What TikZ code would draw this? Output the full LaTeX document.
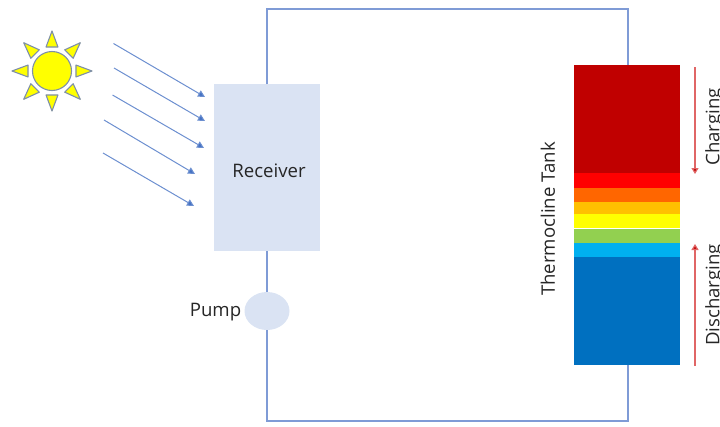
\documentclass[tikz,border=0pt]{standalone}
\usepackage{fontspec}
\setmainfont{Open Sans}
\usetikzlibrary{arrows.meta,shapes.geometric,calc}
\definecolor{boxfill}{HTML}{DAE3F3}
\definecolor{pipe}{HTML}{7F9BD6}
\definecolor{ray}{HTML}{4472C4}
\definecolor{rayline}{HTML}{6C8FD0}
\definecolor{sunline}{HTML}{7E8FA8}
\definecolor{flowline}{HTML}{E06666}
\definecolor{flowtip}{HTML}{C00000}
\definecolor{bDark}{HTML}{C00000}
\definecolor{bRed}{HTML}{FF0000}
\definecolor{bOrange}{HTML}{FF6600}
\definecolor{bAmber}{HTML}{FFC000}
\definecolor{bYellow}{HTML}{FFFF00}
\definecolor{bGreen}{HTML}{92D050}
\definecolor{bSky}{HTML}{00B0F0}
\definecolor{bBlue}{HTML}{0070C0}
\definecolor{txt}{HTML}{262626}
\tikzset{
  x=1pt,y=-1pt,
  pipeline/.style={draw=pipe,line width=1.1pt},
  sunray/.style={draw=rayline,line width=1pt,-{Triangle[length=7pt,width=7pt,fill=ray]}},
  flow/.style={draw=flowline,line width=1.2pt,-{Triangle[length=6pt,width=7pt,fill=flowtip]}},
  band/.style={anchor=north west,inner sep=0pt,outer sep=0pt,minimum width=106pt},
  lbl/.style={text=txt,font=\fontsize{18.6}{22}\selectfont,inner sep=0pt},
  sunpart/.style={draw=sunline,line width=1.1pt,fill=bYellow,line join=round},
}
\begin{document}
\begin{tikzpicture}
\useasboundingbox (0,0) rectangle (720,426);
% pipes
\node[fill=boxfill,minimum width=106pt,minimum height=167pt,inner sep=0pt,outer sep=0pt] (receiver) at (267,167.5) {};
\node[fill=boxfill,ellipse,minimum width=45pt,minimum height=38pt,inner sep=0pt,outer sep=0pt] (pump) at (267,311) {};
\node[minimum width=106pt,minimum height=300pt,inner sep=0pt,outer sep=0pt] (tank) at (627,215) {};
\coordinate (tl) at (267,9);
\coordinate (tr) at (628,9);
\coordinate (bl) at (267,421);
\coordinate (br) at (628,421);
\draw[pipeline,line join=miter] (receiver.north) -- (tl) -- (tr) -- (tr |- tank.north);
\draw[pipeline] (receiver.south) -- (pump.north);
\draw[pipeline,line join=miter] (pump.south) -- (bl) -- (br) -- (br |- tank.south);
% tank bands
\node[band,fill=bDark,minimum height=108pt] (b1) at (574,65) {};
\node[band,fill=bRed,minimum height=15pt] (b2) at (574,173) {};
\node[band,fill=bOrange,minimum height=14pt] (b3) at (574,188) {};
\node[band,fill=bAmber,minimum height=12pt] (b4) at (574,202) {};
\node[band,fill=bYellow,minimum height=14pt] (b5) at (574,214) {};
\node[band,fill=white,minimum height=1pt] (gap) at (574,228) {};
\node[band,fill=bGreen,minimum height=14pt] (b6) at (574,229) {};
\node[band,fill=bSky,minimum height=14pt] (b7) at (574,243) {};
\node[band,fill=bBlue,minimum height=108pt] (b8) at (574,257) {};
% sun
\node[circle,sunpart,minimum size=39pt,inner sep=0pt] (sun) at (52,71) {};
\foreach \a in {0,45,...,315}{
  \draw[sunpart] ($(sun.center)+(\a:40)$) -- ($(sun.center)+(\a+14:24.7)$) -- ($(sun.center)+(\a-14:24.7)$) -- cycle;
}
% rays
\coordinate (r1a) at (113.5,43.5); \coordinate (r1b) at (205,97);
\coordinate (r2a) at (114,68);     \coordinate (r2b) at (205,121);
\coordinate (r3a) at (112.5,95);   \coordinate (r3b) at (204,148);
\coordinate (r4a) at (104,120);    \coordinate (r4b) at (195,174);
\coordinate (r5a) at (103,153);    \coordinate (r5b) at (194,206);
\foreach \i in {1,...,5}{\draw[sunray] (r\i a) -- (r\i b);}
% flow arrows
\coordinate (c1) at (695,67);  \coordinate (c2) at (695,174);
\coordinate (d1) at (695,366); \coordinate (d2) at (695,244);
\draw[flow] (c1) -- (c2);
\draw[flow] (d1) -- (d2);
% labels
\node[lbl] (t1) at (269,171) {Receiver};
\node[lbl] (t2) at (215.5,312.5) {Pump};
\node[lbl,rotate=90] (t3) at (548,219) {Thermocline Tank};
\node[lbl,rotate=90] (t4) at (714.5,127) {Charging};
\node[lbl,rotate=90] (t5) at (714.5,295) {Discharging};
\end{tikzpicture}
\end{document}
